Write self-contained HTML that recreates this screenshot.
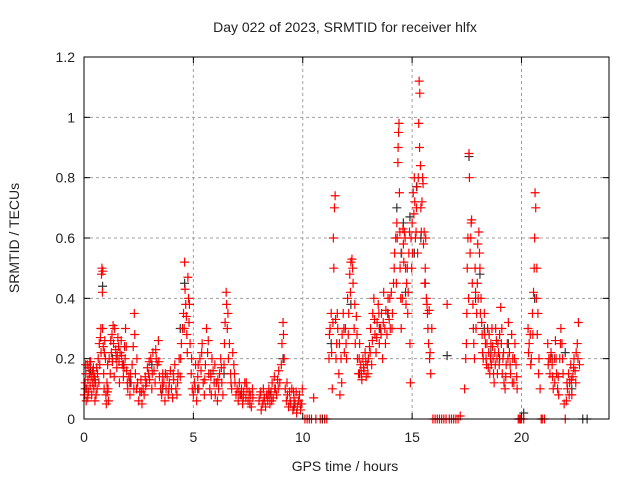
<!DOCTYPE html>
<html><head><meta charset="utf-8"><style>
body{margin:0;background:#fff}
svg text{font-family:"Liberation Sans",sans-serif;fill:#222}
</style></head><body>
<svg id="chart" width="640" height="480" xmlns="http://www.w3.org/2000/svg">
<text x="345" y="32" font-size="14" text-anchor="middle">Day 022 of 2023, SRMTID for receiver hlfx</text>
<text x="345" y="471" font-size="14" text-anchor="middle">GPS time / hours</text>
<text x="19" y="238" font-size="14" text-anchor="middle" transform="rotate(-90 19 238)">SRMTID / TECUs</text>
<g id="grid"></g>
<g id="marksB"></g>
<g id="marksR"></g>
<rect x="84" y="57" width="525" height="362" fill="none" stroke="#000" stroke-width="1"/>
<g id="ticks"></g>
</svg>
<script>
const xTicks=[0,5,10,15,20];
const yTicks=[0,0.2,0.4,0.6,0.8,1,1.2];
const yTickLabels=["0","0.2","0.4","0.6","0.8","1","1.2"];
const redPoints=[[0.02,0.08],[0.05,0.12],[0.08,0.15],[0.1,0.06],[0.12,0.1],[0.15,0.18],[0.18,0.13],[0.2,0.09],[0.22,0.17],[0.25,0.15],[0.28,0.11],[0.3,0.19],[0.33,0.14],[0.35,0.08],[0.38,0.16],[0.4,0.12],[0.43,0.17],[0.45,0.1],[0.48,0.14],[0.5,0.06],[0.52,0.12],[0.55,0.08],[0.6,0.1],[0.62,0.15],[0.65,0.2],[0.7,0.25],[0.72,0.18],[0.75,0.27],[0.78,0.22],[0.8,0.48],[0.82,0.5],[0.84,0.42],[0.86,0.49],[0.85,0.3],[0.88,0.24],[0.9,0.15],[0.92,0.1],[0.95,0.26],[0.98,0.2],
[1.0,0.08],[1.02,0.05],[1.05,0.12],[1.08,0.18],[1.1,0.1],[1.12,0.06],[1.15,0.2],[1.2,0.15],[1.25,0.22],[1.28,0.28],[1.3,0.19],[1.35,0.25],[1.38,0.14],[1.4,0.3],[1.45,0.23],[1.5,0.17],[1.52,0.21],[1.55,0.27],[1.6,0.19],[1.62,0.12],[1.65,0.22],[1.7,0.26],[1.75,0.18],[1.8,0.14],[1.85,0.24],[1.88,0.2],[1.9,0.3],[1.95,0.16],[1.98,0.12],
[2.0,0.1],[2.05,0.14],[2.1,0.08],[2.15,0.12],[2.2,0.18],[2.25,0.24],[2.3,0.35],[2.32,0.28],[2.35,0.15],[2.4,0.1],[2.45,0.12],[2.5,0.06],[2.55,0.09],[2.6,0.13],[2.65,0.05],[2.7,0.1],[2.75,0.08],[2.8,0.14],[2.85,0.12],[2.9,0.17],[2.95,0.15],
[3.0,0.13],[3.05,0.2],[3.1,0.1],[3.15,0.22],[3.2,0.16],[3.25,0.12],[3.3,0.2],[3.35,0.18],[3.4,0.26],[3.45,0.14],[3.5,0.1],[3.55,0.08],[3.6,0.15],[3.65,0.12],[3.7,0.06],[3.75,0.1],[3.8,0.14],[3.85,0.08],[3.9,0.12],[3.95,0.16],
[4.0,0.1],[4.05,0.07],[4.1,0.13],[4.15,0.18],[4.2,0.1],[4.25,0.08],[4.3,0.15],[4.35,0.2],[4.4,0.14],[4.45,0.25],[4.5,0.3],[4.55,0.35],[4.6,0.52],[4.62,0.43],[4.65,0.38],[4.7,0.28],[4.72,0.22],[4.75,0.47],[4.78,0.4],[4.8,0.32],[4.85,0.25],[4.9,0.15],[4.95,0.1],
[5.0,0.08],[5.05,0.12],[5.1,0.18],[5.15,0.06],[5.2,0.14],[5.25,0.1],[5.3,0.2],[5.35,0.16],[5.4,0.25],[5.45,0.12],[5.5,0.08],[5.55,0.18],[5.6,0.3],[5.65,0.22],[5.7,0.15],[5.75,0.1],[5.8,0.14],[5.85,0.2],[5.9,0.16],[5.95,0.12],
[6.0,0.08],[6.05,0.12],[6.1,0.06],[6.15,0.1],[6.2,0.15],[6.25,0.2],[6.3,0.12],[6.35,0.08],[6.4,0.18],[6.45,0.32],[6.5,0.42],[6.52,0.38],[6.55,0.3],[6.6,0.2],[6.65,0.25],[6.7,0.15],[6.75,0.1],[6.8,0.22],[6.85,0.18],[6.9,0.12],[6.95,0.08],
[7.0,0.1],[7.05,0.06],[7.1,0.12],[7.15,0.08],[7.2,0.1],[7.25,0.05],[7.3,0.09],[7.35,0.12],[7.4,0.07],[7.45,0.1],[7.5,0.06],[7.55,0.09],[7.6,0.08],[7.65,0.04],[7.7,0.1],
[8.0,0.06],[8.05,0.08],[8.1,0.03],[8.15,0.05],[8.2,0.1],[8.25,0.07],[8.3,0.04],[8.35,0.08],[8.4,0.06],[8.45,0.1],[8.5,0.05],[8.55,0.09],[8.6,0.12],[8.65,0.07],[8.7,0.14],[8.75,0.1],[8.8,0.08],[8.85,0.13],[8.9,0.16],[8.95,0.12],[9.05,0.25],[9.1,0.32],[9.12,0.28],
[9.2,0.1],[9.25,0.06],[9.3,0.08],[9.35,0.04],[9.4,0.09],[9.45,0.05],[9.5,0.1],[9.55,0.03],[9.6,0.07],[9.65,0.05],[9.7,0.09],[9.75,0.04],[9.8,0.06],[9.85,0.08],[9.9,0.03],[9.95,0.05],
[10.1,0],[10.2,0],[10.3,0],[10.4,0],[10.6,0],[10.8,0],[11.0,0],[11.1,0],[10.5,0.07],
[11.2,0.2],[11.25,0.3],[11.3,0.35],[11.35,0.1],[11.4,0.6],[11.45,0.7],[11.48,0.74],[11.42,0.5],[11.5,0.33],[11.55,0.25],[11.6,0.3],[11.65,0.15],[11.7,0.08],[11.75,0.2],[11.8,0.28],[11.85,0.35],[11.9,0.22],[11.95,0.3],
[12.0,0.2],[12.05,0.4],[12.1,0.35],[12.15,0.48],[12.2,0.52],[12.25,0.53],[12.3,0.45],[12.35,0.3],[12.4,0.25],[12.45,0.34],[12.5,0.2],[12.55,0.15],[12.6,0.25],[12.65,0.18],[12.7,0.13],[12.75,0.2],[12.8,0.16],[12.85,0.22],[12.9,0.14],[12.95,0.18],
[13.0,0.2],[13.05,0.24],[13.1,0.3],[13.15,0.18],[13.2,0.35],[13.25,0.4],[13.3,0.28],[13.35,0.22],[13.4,0.32],[13.45,0.38],[13.5,0.25],[13.55,0.3],[13.6,0.35],[13.65,0.2],[13.7,0.42],[13.75,0.3],[13.8,0.36],[13.85,0.28],[13.9,0.4],[13.95,0.33],
[14.0,0.3],[14.05,0.42],[14.1,0.35],[14.15,0.45],[14.2,0.55],[14.25,0.6],[14.3,0.65],[14.35,0.85],[14.38,0.95],[14.4,0.98],[14.42,0.75],[14.45,0.5],[14.5,0.3],[14.55,0.4],[14.6,0.58],[14.65,0.62],[14.7,0.5],[14.75,0.45],[14.8,0.35],[14.85,0.55],[14.9,0.25],[14.92,0.12],[14.95,0.6],
[15.0,0.65],[15.05,0.75],[15.1,0.8],[15.15,0.6],[15.2,0.7],[15.25,0.55],[15.3,0.98],[15.32,1.12],[15.35,1.08],[15.38,0.84],[15.4,0.7],[15.45,0.72],[15.5,0.78],[15.55,0.62],[15.6,0.5],[15.65,0.4],[15.7,0.35],[15.75,0.25],[15.8,0.2],[15.85,0.15],[15.9,0.3],
[15.95,0],[16.05,0],[16.15,0],[16.25,0],[16.35,0],[16.45,0],[16.55,0],[16.7,0],[16.8,0],[16.9,0],[17.0,0],[17.1,0],[16.6,0.38],[17.2,0.01],
[17.4,0.1],[17.45,0.2],[17.5,0.35],[17.55,0.6],[17.6,0.88],[17.62,0.8],[17.65,0.55],[17.7,0.65],[17.72,0.66],[17.75,0.45],[17.8,0.3],[17.85,0.2],[17.9,0.42],[17.95,0.35],
[18.0,0.58],[18.05,0.62],[18.1,0.5],[18.15,0.4],[18.2,0.28],[18.25,0.2],[18.3,0.35],[18.35,0.25],[18.4,0.18],[18.45,0.3],[18.5,0.22],[18.55,0.15],[18.6,0.25],[18.65,0.3],[18.7,0.2],[18.75,0.12],[18.8,0.18],[18.85,0.26],[18.9,0.15],[18.95,0.22],
[19.0,0.28],[19.05,0.37],[19.1,0.3],[19.15,0.2],[19.2,0.12],[19.25,0.1],[19.3,0.18],[19.35,0.25],[19.4,0.32],[19.45,0.22],[19.5,0.15],[19.55,0.28],[19.6,0.2],[19.65,0.12],[19.7,0.25],[19.75,0.18],[19.8,0.1],[19.85,0],[19.9,0],[19.95,0],
[20.0,0],[20.1,0],[20.3,0.3],[20.35,0.25],[20.4,0.28],[20.45,0.2],[20.5,0.35],[20.55,0.42],[20.6,0.6],[20.62,0.75],[20.65,0.7],[20.7,0.5],[20.75,0.35],[20.8,0.2],[20.85,0.1],[20.9,0],[20.95,0],[21.05,0],
[21.2,0.25],[21.25,0.2],[21.3,0.15],[21.35,0.22],[21.4,0.18],[21.45,0.1],[21.5,0.2],[21.55,0.26],[21.6,0.15],[21.65,0.1],[21.7,0.08],[21.75,0.2],[21.8,0.3],[21.85,0.25],[21.9,0.15],[21.95,0.05],
[22.0,0],[22.05,0.06],[22.1,0.1],[22.15,0.15],[22.2,0.12],[22.25,0.18],[22.3,0.08],[22.35,0.14],[22.4,0.2],[22.45,0.16],[22.5,0.22],[22.55,0.25],[22.6,0.32],[22.65,0.18]];
const redPointsExtra=[[0.07,0.18],[0.17,0.07],[0.27,0.19],[0.42,0.14],[0.58,0.17],[0.68,0.12],[0.77,0.3],[0.93,0.22],[1.07,0.09],[1.22,0.26],[1.33,0.31],[1.47,0.2],[1.58,0.24],[1.72,0.21],[1.83,0.17],[1.93,0.24],[2.12,0.15],[2.28,0.1],[2.42,0.2],[2.62,0.09],[2.82,0.11],[2.98,0.19],[3.12,0.15],[3.28,0.23],[3.42,0.19],[3.58,0.12],[3.72,0.15],[3.88,0.1],[4.08,0.15],[4.28,0.12],[4.42,0.2],[4.58,0.3],[4.68,0.34],[4.82,0.38],[4.92,0.2],[5.08,0.1],[5.22,0.18],[5.38,0.22],[5.52,0.13],[5.68,0.26],[5.82,0.08],[5.98,0.18],[6.12,0.13],[6.28,0.17],[6.42,0.25],[6.58,0.35],[6.72,0.12],[6.88,0.15],[7.08,0.09],[7.28,0.07],[7.42,0.12],[7.58,0.05],[7.72,0.07],[8.08,0.09],[8.22,0.06],[8.42,0.08],[8.58,0.06],[8.72,0.1],[8.88,0.1],[9.02,0.18],[9.15,0.2],[9.28,0.12],[9.42,0.06],[9.58,0.09],[9.72,0.02],[9.88,0.05],[9.98,0.1],
[11.22,0.28],[11.32,0.22],[11.38,0.32],[11.52,0.2],[11.58,0.35],[11.68,0.25],[11.78,0.12],[11.88,0.3],[11.98,0.25],[12.08,0.28],[12.18,0.42],[12.28,0.5],[12.38,0.38],[12.48,0.28],[12.58,0.2],[12.68,0.15],[12.78,0.17],[12.88,0.19],[12.98,0.15],[13.08,0.22],[13.18,0.26],[13.28,0.33],[13.38,0.27],[13.48,0.35],[13.58,0.28],[13.68,0.32],[13.78,0.25],[13.88,0.35],[13.98,0.4],[14.08,0.3],[14.18,0.5],[14.28,0.45],[14.32,0.6],[14.36,0.9],[14.44,0.62],[14.48,0.4],[14.52,0.55],[14.58,0.63],[14.62,0.52],[14.68,0.6],[14.72,0.38],[14.78,0.5],[14.82,0.42],[14.88,0.62],[14.98,0.5],[15.02,0.55],[15.08,0.68],[15.12,0.72],[15.18,0.62],[15.22,0.77],[15.28,0.8],[15.34,0.9],[15.42,0.62],[15.48,0.8],[15.52,0.58],[15.58,0.45],[15.62,0.6],[15.68,0.38],[15.72,0.3],[15.78,0.36],[15.82,0.22],
[17.48,0.25],[17.52,0.5],[17.58,0.4],[17.68,0.6],[17.78,0.38],[17.82,0.25],[17.88,0.5],[17.92,0.3],[17.98,0.45],[18.02,0.4],[18.08,0.55],[18.12,0.35],[18.18,0.32],[18.22,0.22],[18.32,0.28],[18.38,0.2],[18.42,0.25],[18.48,0.17],[18.52,0.28],[18.58,0.2],[18.62,0.18],[18.68,0.24],[18.72,0.15],[18.78,0.22],[18.82,0.3],[18.88,0.2],[18.92,0.25],[18.98,0.18],[19.08,0.25],[19.12,0.15],[19.18,0.22],[19.28,0.14],[19.38,0.2],[19.48,0.18],[19.58,0.12],[19.68,0.2],[19.78,0.14],
[20.32,0.22],[20.42,0.18],[20.52,0.28],[20.58,0.5],[20.68,0.4],[20.72,0.28],[20.78,0.15],[21.22,0.18],[21.32,0.2],[21.42,0.14],[21.52,0.12],[21.58,0.2],[21.68,0.14],[21.78,0.25],[21.88,0.2],[22.08,0.12],[22.18,0.08],[22.28,0.13],[22.38,0.17],[22.48,0.12],[22.58,0.2]];
const blackPoints=[[0.05,0.1],[0.3,0.16],[0.85,0.44],[1.3,0.2],[2.1,0.12],[3.1,0.18],[4.4,0.3],[4.6,0.45],[5.2,0.1],[6.4,0.15],[7.2,0.08],[8.5,0.08],[9.1,0.2],[9.6,0.04],[11.3,0.25],[12.2,0.38],[13.5,0.3],[14.3,0.7],[14.5,0.55],[14.6,0.65],[14.7,0.42],[14.9,0.67],[15.1,0.55],[15.2,0.77],[15.4,0.6],[15.6,0.45],[16.6,0.21],[17.6,0.87],[17.9,0.4],[18.1,0.48],[18.3,0.3],[18.6,0.22],[19.0,0.2],[19.4,0.25],[20.1,0.02],[20.6,0.4],[21.4,0.2],[22.0,0.22],[22.3,0.1],[22.8,0],[23.0,0],[0.5,0.13],[1.8,0.18],[3.6,0.1],[5.8,0.15],[10.9,0],[12.6,0.15],[13.9,0.35]];
const X0=84,X1=609,Y0=419,Y1=57,XMAX=24,YMAX=1.2;
function xs(t){return X0+(X1-X0)*t/XMAX;}
function ys(v){return Y0-(Y0-Y1)*v/YMAX;}
const NS="http://www.w3.org/2000/svg";
function mk(tag,attrs,parent){const e=document.createElementNS(NS,tag);for(const k in attrs)e.setAttribute(k,attrs[k]);parent.appendChild(e);return e;}
const grid=document.getElementById('grid'),ticks=document.getElementById('ticks');
xTicks.forEach(t=>{const x=xs(t);
 if(t>0){const g=mk('line',{x1:x,x2:x,y1:Y1,y2:Y0,stroke:'#a0a0a0','stroke-dasharray':'3,3'},grid);}
 const a=mk('line',{x1:x,x2:x,y1:Y0,y2:Y0-6,stroke:'#000'},ticks);
 const b=mk('line',{x1:x,x2:x,y1:Y1,y2:Y1+6,stroke:'#000'},ticks);
 const l=mk('text',{x:x,y:Y0+23,'font-size':14,'text-anchor':'middle'},ticks);l.textContent=String(t);});
yTicks.forEach((v,i)=>{const y=ys(v);
 if(v>0&&v<YMAX){const g=mk('line',{x1:X0,x2:X1,y1:y,y2:y,stroke:'#a0a0a0','stroke-dasharray':'3,3'},grid);}
 const a=mk('line',{x1:X0,x2:X0+6,y1:y,y2:y,stroke:'#000'},ticks);
 const b=mk('line',{x1:X1,x2:X1-6,y1:y,y2:y,stroke:'#000'},ticks);
 const l=mk('text',{x:X0-9,y:y+5,'font-size':14,'text-anchor':'end'},ticks);l.textContent=yTickLabels[i];});
function plus(p,color,parent){const x=xs(p[0]),y=ys(p[1]);
 const e=mk('path',{d:`M${x-4.5},${y}H${x+4.5}M${x},${y-4.5}V${y+4.5}`,stroke:color,'stroke-width':1.2,fill:'none'},parent);
 
 }
const gb=document.getElementById('marksB'),gr=document.getElementById('marksR');
blackPoints.forEach(p=>plus(p,'#333',gb));
redPoints.concat(redPointsExtra).forEach(p=>plus(p,'#ff0000',gr));
</script>
</body></html>
